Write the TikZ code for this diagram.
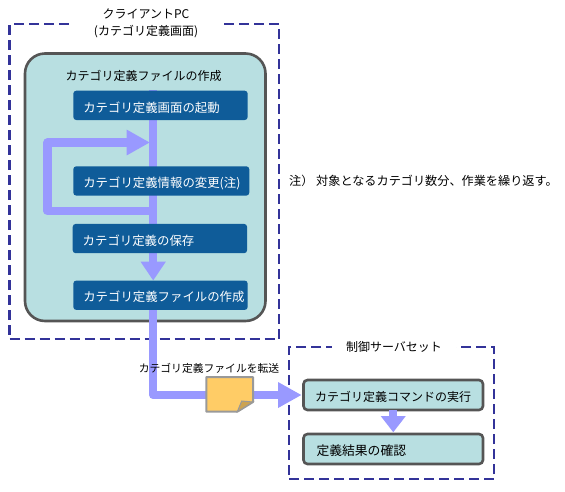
\documentclass[tikz,border=0pt]{standalone}
\usepackage{fontspec}
\setmainfont{Noto Sans CJK JP}
\usepackage{xcolor}
\usetikzlibrary{positioning,arrows.meta}
\definecolor{flowblue}{HTML}{9999FF}
\definecolor{dashblue}{HTML}{333399}
\definecolor{paneteal}{HTML}{B8DFE1}
\definecolor{stepblue}{HTML}{0F5C99}
\definecolor{edgegray}{HTML}{555555}
\definecolor{filegold}{HTML}{FFCC66}
\definecolor{foldgold}{HTML}{CCA352}
\definecolor{fileedge}{HTML}{999999}
\pgfdeclarelayer{back}
\pgfdeclarelayer{flow}
\pgfsetlayers{back,flow,main}
\newcommand{\fsize}[1]{\fontsize{#1}{14}\selectfont}
\begin{document}
\begin{tikzpicture}[
  x=1pt, y=-1pt,
  font=\fsize{12},
  frame/.style={draw=dashblue, line width=2.4pt, dash pattern=on 10pt off 5pt, minimum width=#1, inner sep=0pt, outer sep=0pt, anchor=north west},
  frame/.default=200pt,
  title/.style={fill=white, align=center, inner sep=0pt, minimum height=14pt},
  stepbox/.style={fill=stepblue, text=white, font=\fsize{12.4}, rounded corners=3pt, minimum height=29.3pt, text height=14pt, text depth=0.6pt, inner sep=0pt, outer sep=0pt, inner xsep=10pt, text width=#1, align=left, anchor=north west},
  stepbox/.default=154.4pt,
  tealbox/.style={draw=edgegray, line width=2.6pt, fill=paneteal, rounded corners=4pt, minimum height=30pt, text height=14pt, text depth=0.6pt, inner sep=0pt, outer sep=0pt, inner xsep=11.5pt, text width=156.5pt, align=left, anchor=north west},
  arrow/.style={draw=flowblue, line width=8.2pt, line join=round, -{Triangle[length=#1, width=24pt]}},
  arrow/.default=19pt
]
\useasboundingbox (0,0) rectangle (565,491);

\begin{pgfonlayer}{back}
\node[frame=269.5pt, minimum height=315pt] (client) at (9.5,24) {};
\node[frame=205pt, minimum height=132pt] (server) at (289,347) {};
\node[draw=edgegray, line width=2.6pt, fill=paneteal, rounded corners=20pt, minimum width=240.5pt, minimum height=267.5pt, outer sep=0pt, anchor=north west] (pane) at (25,53.5) {};
\end{pgfonlayer}

\node[title, minimum width=152pt] (clienttitle) at (146,23.5) {クライアントPC\\[3pt](カテゴリ定義画面)};
\node[title, minimum width=124pt] (servertitle) at (394,347) {制御サーバセット};
\node (panetitle) at (143.5,76) {カテゴリ定義ファイルの作成};

\node[stepbox] (start) at (73.3,90.7) {カテゴリ定義画面の起動};
\node[stepbox=156pt, below=46.3pt of start.south west, anchor=north west] (edit) {カテゴリ定義情報の変更(注)};
\node[stepbox, below=28.3pt of edit.south west, anchor=north west, xshift=-0.6pt] (save) {カテゴリ定義の保存};
\node[stepbox, below=27.4pt of save.south west, anchor=north west, xshift=0.6pt] (make) {カテゴリ定義ファイルの作成};

\node[anchor=west, inner sep=0pt, font=\fsize{12.15}] (note) at (289,181) {注） 対象となるカテゴリ数分、作業を繰り返す。};

\node[tealbox] (command) at (303.5,380) {カテゴリ定義コマンドの実行};
\node[tealbox, font=\fsize{12.8}, below=24pt of command.south west, anchor=north west] (result) {\hspace{1.5pt}定義結果の確認};

\node[font=\fsize{10.8}] (sendlabel) at (209,368) {カテゴリ定義ファイルを転送};

\coordinate (spine) at (153.2,90);
\coordinate (back) at (153.2,211);
\coordinate (join) at (150,142.5);
\coordinate (loop) at (47.5,142.5);
\coordinate (bend) at (153.2,395);

\begin{pgfonlayer}{flow}
\draw[arrow] (spine) -- (spine |- make.north);
\draw[arrow=23.3pt] (back) -| (loop) -- (join);
\draw[arrow=23.5pt, shorten >=1.8pt] (make.south -| bend) -- (bend) -- (command.west |- bend);
\end{pgfonlayer}
\draw[arrow=16.3pt, shorten >=1.7pt] (command.south) -- (result.north);

% transferred file
\node[minimum width=46.7pt, minimum height=34.7pt, inner sep=0pt, outer sep=0pt] (file) at (229.65,394.35) {};
\draw[draw=fileedge, line width=2pt, line join=round, fill=filegold] (file.north west) -- (file.north east) -- ++(0,25) -- ++(-15.7,9.7) -- (file.south west) -- cycle;
\fill[foldgold, draw=fileedge, line width=1pt] (file.north east) ++(0,25) -- ++(-11.3,-1) -- ++(-4.4,10.7) -- cycle;
\end{tikzpicture}
\end{document}
